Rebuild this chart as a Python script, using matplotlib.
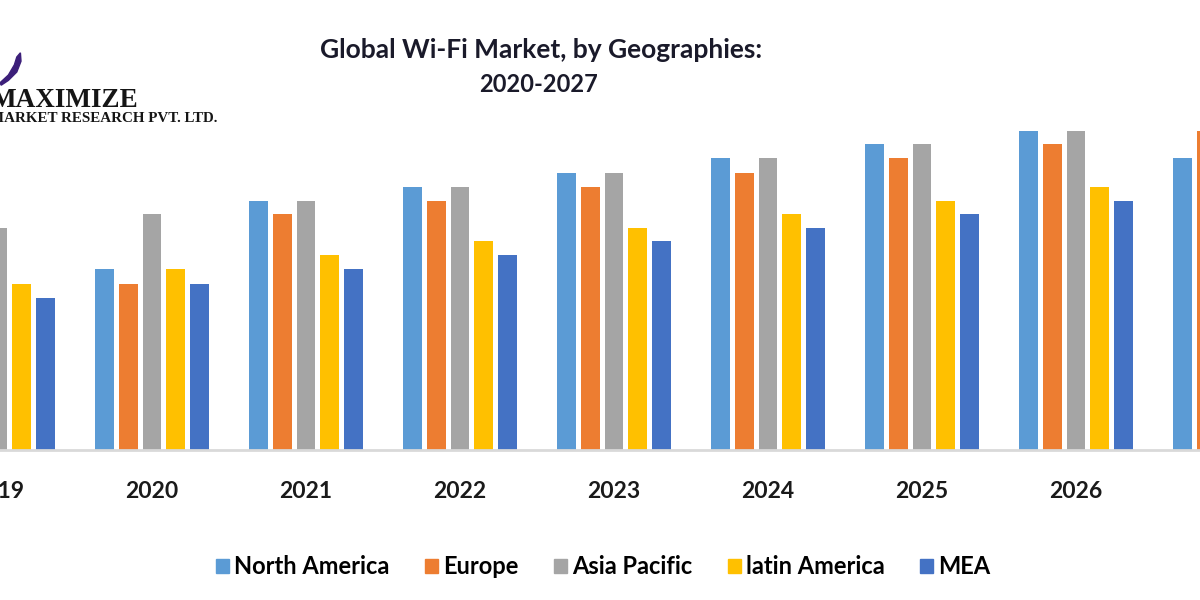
import numpy as np
import matplotlib
matplotlib.use("Agg")
import matplotlib.pyplot as plt
from matplotlib.patches import Patch, Polygon

# data (bar heights, arbitrary units)
years = [2019, 2020, 2021, 2022, 2023, 2024, 2025, 2026, 2027]
regions = ["North America", "Europe", "Asia Pacific", "latin America", "MEA"]
north_america = [16.6, 18.1, 24.9, 26.3, 27.7, 29.2, 30.6, 31.9, 29.2]
europe = [15.2, 16.6, 23.6, 24.9, 26.3, 27.7, 29.2, 30.6, 31.9]
asia_pacific = [22.2, 23.6, 24.9, 26.3, 27.7, 29.2, 30.6, 31.9, 33.2]
latin_america = [16.6, 18.1, 19.5, 20.9, 22.2, 23.6, 24.9, 26.3, 27.7]
mea = [15.2, 16.6, 18.1, 19.5, 20.9, 22.2, 23.6, 24.9, 26.3]
colors = ["#5B9BD5", "#ED7D31", "#A5A5A5", "#FFC000", "#4472C4"]

series = [north_america, europe, asia_pacific, latin_america, mea]

fig = plt.figure(figsize=(12, 6), dpi=100)
# axes a bit wider than the figure: the original picture is a crop
ax = fig.add_axes([-0.02, 0.25, 1.04, 0.5833])

x = np.arange(len(years))
pitch = 0.153
width = 0.123
for i, (vals, c) in enumerate(zip(series, colors)):
    ax.bar(x + (i - 2) * pitch, vals, width, color=c, label=regions[i])

for s in ["top", "right", "left"]:
    ax.spines[s].set_visible(False)
ax.spines["bottom"].set_color("#D9D9D9")
ax.spines["bottom"].set_linewidth(2)
ax.set_yticks([])
ax.set_xticks(x)
ax.set_xticklabels([str(y) for y in years], fontfamily="Lato",
                   fontweight="bold", fontsize=16.5, color="#1a1a1a")
ax.tick_params(axis="x", length=0, pad=22)
# 2020 sits at px 152, groups 154 px apart
ax.set_xlim(1 - 176 / 154, 1 + 1072 / 154)
ax.set_ylim(0, 35)

fig.text(0.451, 0.917, "Global Wi-Fi Market, by Geographies:", ha="center",
         va="center", fontfamily="Lato", fontweight="bold", fontsize=19,
         color="#1a1a2a")
fig.text(0.449, 0.86, "2020-2027", ha="center", va="center",
         fontfamily="Lato", fontweight="bold", fontsize=17, color="#1a1a2a")

# logo
fig.text(-0.008, 0.822, "MAXIMIZE", ha="left", va="baseline",
         fontfamily="Liberation Serif", fontweight="bold", fontsize=19.5,
         color="#151515")
fig.text(-0.008, 0.796, "MARKET RESEARCH PVT. LTD.", ha="left",
         va="baseline", fontfamily="Liberation Serif", fontweight="bold",
         fontsize=10.8, color="#151515")
swoosh = [(0.0, 0.862), (0.007, 0.875), (0.012, 0.892), (0.014, 0.905),
          (0.017, 0.912), (0.0175, 0.898), (0.014, 0.880), (0.007, 0.866),
          (0.001, 0.858)]
fig.patches.append(Polygon(swoosh, closed=True, transform=fig.transFigure,
                           color="#3C1F7A"))

handles = [Patch(color=c) for c in colors]
fig.legend(handles, regions, loc="center", bbox_to_anchor=(0.5025, 0.055),
           ncol=5, frameon=False, handlelength=0.57, handleheight=0.57,
           handletextpad=0.2, columnspacing=1.5,
           prop={"family": "Lato", "size": 17, "weight": "bold"})

fig.savefig("out.png", dpi=100)
